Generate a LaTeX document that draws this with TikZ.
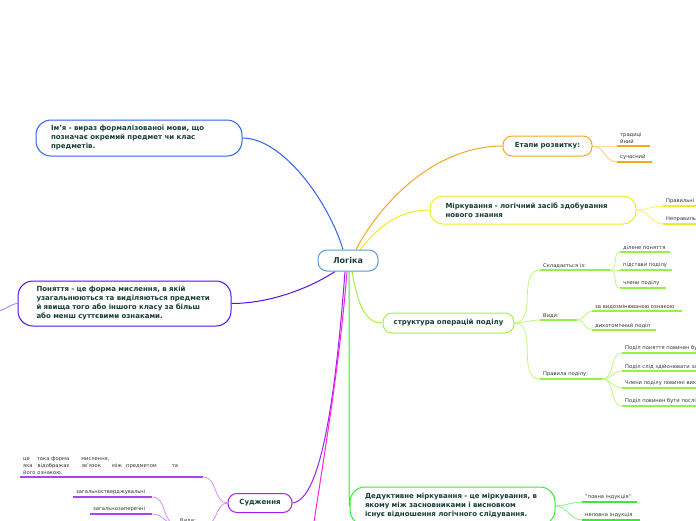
\documentclass[tikz,border=0pt]{standalone}
\usepackage{fontspec}
\setmainfont{DejaVu Sans}
\usepackage{tikz}
\usetikzlibrary{backgrounds}

\definecolor{textc}{HTML}{173F36}
\definecolor{leafc}{HTML}{333333}
\definecolor{lgc}{HTML}{5B9BD5}
\definecolor{imc}{HTML}{3060F0}
\definecolor{pnc}{HTML}{5010E8}
\definecolor{etc}{HTML}{F5A623}
\definecolor{mkc}{HTML}{EEEE22}
\definecolor{stc}{HTML}{A6F04A}
\definecolor{ddc}{HTML}{33EE33}
\definecolor{sdc}{HTML}{A020F0}
\definecolor{mgc}{HTML}{FF22DD}

\begin{document}
\begin{tikzpicture}[x=1pt, y=-1pt,
        topic/.style={draw, fill=white, rounded corners=9pt, line width=1pt, text=textc,
            font=\fontsize{7}{9}\selectfont\bfseries, inner sep=0pt},
        bigtopic/.style={topic, rounded corners=15pt, align=left},
        leaf/.style={anchor=south west, inner xsep=3pt, inner ysep=2pt, align=left,
            text=leafc, font=\fontsize{5.2}{7}\selectfont},
        ul/.style={line width=1.8pt},
        twig/.style={line width=0.8pt},
        branch/.style={line width=1pt}]
        \useasboundingbox (0,0) rectangle (696,520);
        \clip (0,0) rectangle (696,520);

        % main topics
        \node[topic, draw=lgc, minimum width=60pt, minimum height=21pt,
            font=\fontsize{8}{10}\selectfont\bfseries] (lg) at (348,260.5) {Логіка};
        \node[bigtopic, draw=imc, minimum width=206pt, minimum height=36pt, text width=176pt]
            (im) at (139,138) {Ім'я - вираз формалізованої мови, що\\позначає окремий предмет чи клас\\предметів.};
        \node[bigtopic, draw=pnc, minimum width=213pt, minimum height=45pt, text width=176pt]
            (pn) at (124.5,303.5) {Поняття - це форма мислення, в якій\\узагальнюються та виділяються предмети\\й явища того або іншого класу за більш\\або менш суттєвими ознаками.};
        \node[topic, draw=etc, minimum width=89pt, minimum height=20pt] (et) at (547.5,146) {Етапи розвитку:};
        \node[bigtopic, draw=mkc, rounded corners=13pt, minimum width=206pt, minimum height=28pt, text width=175pt]
            (mk) at (533,210) {Міркування - логічний засіб здобування\\нового знання};
        \node[topic, draw=stc, minimum width=131pt, minimum height=20pt] (st) at (448.5,323) {структура операцій поділу};
        \node[bigtopic, draw=ddc, minimum width=205pt, minimum height=38pt, text width=175pt]
            (dd) at (452.5,506) {Дедуктивне міркування - це міркування, в\\якому між засновниками і висновком\\існує відношення логічного слідування.};
        \node[topic, draw=sdc, minimum width=64pt, minimum height=19pt] (sd) at (260,503) {Судження};

        % leaves
        \node[leaf, text width=27pt] (tr) at (617,146) {традиці\\йний};
        \node[leaf, text width=29pt] (su) at (617,162) {сучасний};
        \node[leaf, text width=60pt] (pr) at (663,206) {Правильні};
        \node[leaf, text width=60pt] (np) at (663,224) {Неправильні};

        \node[leaf, text width=64pt] (sk) at (540,270) {Складається із:};
        \node[leaf, text width=44pt] (dp) at (620,252) {ділене поняття};
        \node[leaf, text width=46pt] (ps) at (620,270) {підстави поділу};
        \node[leaf, text width=40pt] (ch) at (620,288) {члени поділу};
        \node[leaf, text width=31pt] (vy) at (540,320) {Види:};
        \node[leaf, text width=84pt] (zv) at (592,311) {за видозмінюваною ознакою};
        \node[leaf, text width=58pt] (dh) at (592,330) {дихотомічний поділ};
        \node[leaf, text width=56pt] (pp) at (540,379) {Правила поділу:};
        \node[leaf, text width=94pt] (ra) at (622,353) {Поділ поняття повинен бути};
        \node[leaf, text width=94pt] (rb) at (622,371) {Поділ слід здійснювати за};
        \node[leaf, text width=94pt] (rc) at (622,388) {Члени поділу повинні виключати};
        \node[leaf, text width=94pt] (rd) at (622,406) {Поділ повинен бути послідовним};

        \node[leaf, text width=49pt] (pi) at (582,502) {"повна індукція"};
        \node[leaf, text width=52pt] (ni) at (582,520) {неповна індукція};

        \node[leaf, text width=177pt] (df) at (20,477)
            {це\hspace{7pt}така форма\hspace{12pt}мислення,\\яка\hspace{5pt}відображає\hspace{12pt}зв'язок\hspace{11pt}між\hspace{4pt}предметом\hspace{15pt}та\\його ознакою.};
        \node[leaf, text width=73pt] (gs) at (73,497) {загальностверджувальні};
        \node[leaf, text width=56pt] (gz) at (90,514) {загальнозаперечні};
        \node[leaf, text width=22pt] (vd) at (177,525) {Види:};

        \coordinate (pl) at (-2,311);
        \coordinate (mg) at (314,522);

        \begin{scope}[on background layer]
            \clip (0,0) rectangle (696,520);
            % branches from the centre
            \draw[branch, imc] ([xshift=-5pt]lg.north) .. controls (328,200) and (282,138) .. (im.east);
            \draw[branch, pnc] ([xshift=-13pt]lg.south) .. controls (310,288) and (270,303.5) .. (pn.east);
            \draw[twig, pnc!55] (pn.west) .. controls (10,304) and (8,309) .. (pl);
            \draw[branch, etc] ([xshift=8pt]lg.north) .. controls (385,195) and (440,146) .. (et.west);
            \draw[branch, mkc] ([xshift=12pt]lg.north) .. controls (380,225) and (400,210) .. (mk.west);
            \draw[branch, stc] ([xshift=4pt]lg.south) .. controls (358,305) and (365,323) .. (st.west);
            \draw[branch, ddc] ([xshift=1pt]lg.south) .. controls (349,470) and (349,500) .. (dd.west);
            \draw[branch, sdc] ([xshift=-3pt]lg.south) .. controls (336,390) and (322,500) .. (sd.east);
            \draw[branch, mgc] ([xshift=-1pt]lg.south) .. controls (340,360) and (325,450) .. (mg);

            % twigs
            \foreach \n in {tr,su}
                \draw[twig, etc!60] (et.east) to[out=0,in=180] (\n.south west);
            \foreach \n in {pr,np}
                \draw[twig, mkc!70] (mk.east) to[out=0,in=180] (\n.south west);
            \foreach \n in {sk,vy,pp}
                \draw[twig, stc!70] (st.east) to[out=0,in=180] (\n.south west);
            \foreach \n in {dp,ps,ch}
                \draw[twig, stc!70] (sk.south east) to[out=0,in=180] (\n.south west);
            \foreach \n in {zv,dh}
                \draw[twig, stc!70] (vy.south east) to[out=0,in=180] (\n.south west);
            \foreach \n in {ra,rb,rc,rd}
                \draw[twig, stc!70] (pp.south east) to[out=0,in=180] (\n.south west);
            \foreach \n in {pi,ni}
                \draw[twig, ddc!60] (dd.east) to[out=0,in=180] (\n.south west);
            \foreach \n in {df,vd}
                \draw[twig, sdc!50] (sd.west) to[out=180,in=0] (\n.south east);
            \foreach \n in {gs,gz}
                \draw[twig, sdc!50] (\n.south east) to[out=0,in=180] (vd.south west);
        \end{scope}

        % underlines
        \foreach \n in {tr,su}
            \draw[ul, etc] (\n.south west) -- (\n.south east);
        \foreach \n in {pr,np}
            \draw[ul, mkc] (\n.south west) -- (\n.south east);
        \foreach \n in {sk,dp,ps,ch,vy,zv,dh,pp,ra,rb,rc,rd}
            \draw[ul, stc!90!green] (\n.south west) -- (\n.south east);
        \foreach \n in {pi,ni}
            \draw[ul, ddc] (\n.south west) -- (\n.south east);
        \foreach \n in {df,gs,gz,vd}
            \draw[ul, sdc!85] (\n.south west) -- (\n.south east);
    \end{tikzpicture}
\end{document}
